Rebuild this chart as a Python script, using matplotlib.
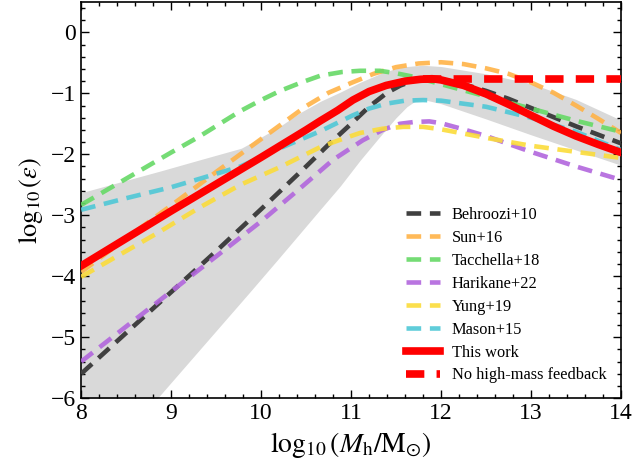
import numpy as np
import matplotlib.pyplot as plt
from matplotlib.ticker import MultipleLocator

plt.rcParams['font.family'] = ['Liberation Serif', 'DejaVu Serif']
plt.rcParams['mathtext.fontset'] = 'stix'

# Literature curves (log10 Mh, log10 eps)
beh_x = [8, 8.5, 9, 9.5, 10, 10.5, 10.75, 11, 11.2, 11.4, 11.55, 11.7, 11.85, 12, 12.2, 12.5, 12.75, 13, 13.25, 13.5, 13.75, 14]
beh_y = [-5.6, -4.93, -4.26, -3.59, -2.9, -2.2, -1.84, -1.5, -1.22, -0.99, -0.87, -0.79, -0.76, -0.77, -0.83, -0.96, -1.09, -1.24, -1.39, -1.54, -1.68, -1.82]

sun_x = [8, 8.5, 9, 9.5, 10, 10.25, 10.5, 10.75, 11, 11.25, 11.5, 11.75, 12, 12.25, 12.5, 12.75, 13, 13.25, 13.5, 13.75, 14]
sun_y = [-3.93, -3.38, -2.84, -2.29, -1.75, -1.48, -1.21, -0.99, -0.83, -0.68, -0.57, -0.51, -0.49, -0.52, -0.59, -0.68, -0.82, -0.99, -1.2, -1.42, -1.65]

tac_x = [8, 8.5, 9, 9.3, 9.77, 10, 10.21, 10.45, 10.66, 10.9, 11.1, 11.32, 11.5, 11.7, 12, 12.25, 12.5, 12.75, 13, 13.25, 13.5, 13.75, 14]
tac_y = [-2.83, -2.4, -1.97, -1.72, -1.29, -1.11, -0.96, -0.82, -0.71, -0.65, -0.63, -0.63, -0.67, -0.73, -0.85, -0.95, -1.05, -1.15, -1.25, -1.35, -1.45, -1.54, -1.63]

har_x = [8, 9, 10, 10.4, 10.8, 11.13, 11.35, 11.54, 11.7, 11.87, 12, 12.25, 12.5, 12.75, 13, 13.5, 14]
har_y = [-5.4, -4.25, -3.1, -2.6, -2.09, -1.77, -1.6, -1.5, -1.47, -1.46, -1.49, -1.59, -1.7, -1.83, -1.96, -2.2, -2.42]

yun_x = [8, 8.85, 9.32, 9.77, 10.21, 10.66, 10.9, 11.1, 11.35, 11.58, 11.8, 12, 12.5, 13, 13.5, 14]
yun_y = [-4.01, -3.29, -2.87, -2.5, -2.21, -1.88, -1.75, -1.65, -1.58, -1.55, -1.55, -1.59, -1.73, -1.86, -1.96, -2.06]

mas_x = [8, 8.5, 9, 9.32, 9.77, 10.21, 10.66, 11.02, 11.2, 11.39, 11.6, 11.8, 12, 12.5, 13, 13.5, 14]
mas_y = [-2.91, -2.72, -2.54, -2.4, -2.2, -1.9, -1.62, -1.36, -1.25, -1.17, -1.12, -1.11, -1.12, -1.22, -1.4, -1.63, -1.93]

# This work
tw_x = [8, 9, 10, 10.5, 10.66, 10.85, 11.02, 11.2, 11.39, 11.6, 11.77, 11.9, 12, 12.25, 12.5, 12.75, 13, 13.25, 13.5, 13.75, 14]
tw_y = [-3.83, -2.93, -2.05, -1.6, -1.45, -1.28, -1.11, -0.97, -0.87, -0.8, -0.77, -0.76, -0.78, -0.87, -1.01, -1.18, -1.36, -1.54, -1.7, -1.84, -1.97]

nofb_x = [11.8, 14]
nofb_y = [-0.76, -0.76]

# uncertainty band
band_x = [8, 8.89, 9.32, 9.78, 9.88, 10.2, 10.43, 10.66, 10.88, 11.1, 11.32, 11.5, 11.62, 11.7, 11.8, 12, 12.5, 13, 13.5, 14]
band_lo = [-7.45, -5.93, -5.2, -4.42, -4.25, -3.7, -3.3, -2.9, -2.52, -2.1, -1.71, -1.4, -1.22, -1.14, -1.1, -1.17, -1.42, -1.68, -1.93, -2.18]
band_hi = [-2.63, -2.27, -2.09, -1.9, -1.82, -1.55, -1.32, -1.13, -0.98, -0.82, -0.68, -0.59, -0.56, -0.55, -0.54, -0.56, -0.68, -0.84, -1.1, -1.44]

fig = plt.figure(figsize=(6.34, 4.74), dpi=100)
ax = fig.add_axes([0.128, 0.160, 0.8515, 0.836])

ax.fill_between(band_x, band_lo, band_hi, color='#d9d9d9', lw=0, zorder=1)

dash = (0, (3.2, 1.9))
lw = 3.3
ax.plot(beh_x, beh_y, color='#404040', ls=dash, lw=lw, label='Behroozi+10', zorder=3)
ax.plot(sun_x, sun_y, color='#ffb347', ls=dash, lw=lw, alpha=0.9, label='Sun+16', zorder=3)
ax.plot(tac_x, tac_y, color='#66d966', ls=dash, lw=lw, alpha=0.9, label='Tacchella+18', zorder=3)
ax.plot(har_x, har_y, color='#b266dd', ls=dash, lw=lw, alpha=0.9, label='Harikane+22', zorder=3)
ax.plot(yun_x, yun_y, color='#fbdc3a', ls=dash, lw=lw, alpha=0.9, label='Yung+19', zorder=3)
ax.plot(mas_x, mas_y, color='#4fc8d6', ls=dash, lw=lw, alpha=0.9, label='Mason+15', zorder=3)
ax.plot(tw_x, tw_y, color='red', lw=5.5, label='This work', zorder=4)
ax.plot(nofb_x, nofb_y, color='red', lw=5.5, ls=(0, (2.4, 1.6)), label='No high-mass feedback', zorder=4)

ax.set_xlim(8, 14)
ax.set_ylim(-6, 0.5)
ax.xaxis.set_major_locator(MultipleLocator(1))
ax.xaxis.set_minor_locator(MultipleLocator(0.2))
ax.yaxis.set_major_locator(MultipleLocator(1))
ax.yaxis.set_minor_locator(MultipleLocator(0.2))
ax.tick_params(which='both', direction='in', top=True, right=True, labelsize=17)
ax.tick_params(which='major', length=6, width=1)
ax.tick_params(which='minor', length=3, width=1)
for s in ax.spines.values():
    s.set_linewidth(1.2)

ax.set_xlabel(r'$\log_{10}(M_{\mathrm{h}}/\mathrm{M}_{\odot})$', fontsize=20)
ax.set_ylabel(r'$\log_{10}(\epsilon)$', fontsize=19)

ax.legend(loc='lower right', frameon=False, fontsize=11.8, handlelength=2.1,
          handletextpad=0.7, labelspacing=0.42, bbox_to_anchor=(1.0, 0.0))

fig.savefig('out.png', dpi=100)
